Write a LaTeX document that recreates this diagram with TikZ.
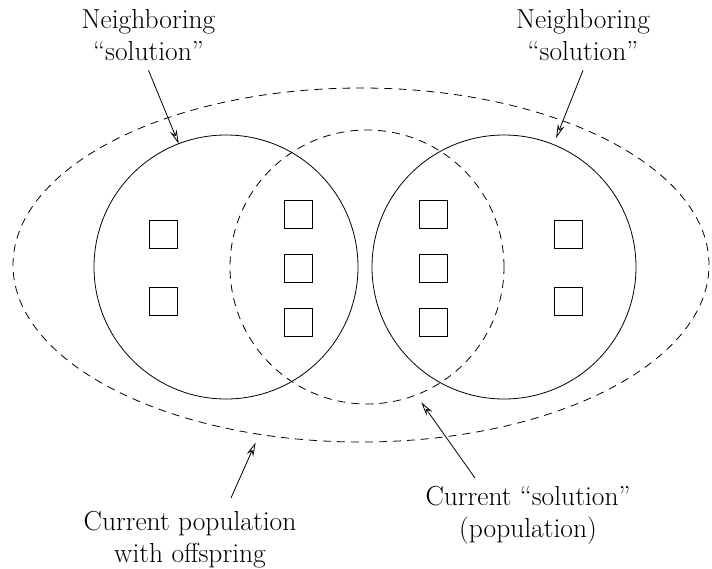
\documentclass[tikz,border=0pt]{standalone}
\usetikzlibrary{arrows.meta,shapes.geometric}
\begin{document}
\begin{tikzpicture}[x=1pt,y=1pt,
  every node/.style={inner sep=0pt,outer sep=0pt},
  lbl/.style={align=center,anchor=north,font=\fontsize{27.5}{32}\selectfont},
  solid ring/.style={circle,draw,line width=0.8pt,minimum size=264pt},
  dash ring/.style={draw,line width=0.8pt,dash pattern=on 8pt off 6pt},
  member/.style={rectangle,draw,line width=0.7pt,minimum size=28pt},
  pointer/.style={line width=0.8pt,-{Stealth[open,length=14pt,width=7pt]}}]
\useasboundingbox (0,0) rectangle (712,-568);

% population with offspring (outer dashed ellipse)
\node[dash ring,ellipse,minimum width=696pt,minimum height=354pt] (E) at (361,-265) {};
% neighbouring solutions
\node[solid ring] (L) at (226,-267) {};
\node[solid ring] (R) at (504,-267) {};
% current solution
\node[dash ring,circle,minimum size=274pt] (M) at (367,-267) {};

% individuals
\node[member] (l1) at (163,-234) {};
\node[member] (l2) at (163,-301) {};
\node[member] (m1) at (298,-214) {};
\node[member] (m2) at (298,-268) {};
\node[member] (m3) at (298,-322) {};
\node[member] (n1) at (433,-214) {};
\node[member] (n2) at (433,-268) {};
\node[member] (n3) at (433,-322) {};
\node[member] (r1) at (568,-234) {};
\node[member] (r2) at (568,-301) {};

% labels
\node[lbl] (NL) at (148.5,-9) {Neighboring\\``solution''};
\node[lbl] (NR) at (583,-9) {Neighboring\\``solution''};
\node[lbl] (PB) at (190,-511) {Current population\\with offspring};
\node[lbl] (CS) at (528,-486) {Current ``solution''\\(population)};

% pointers
\draw[pointer] ([yshift=-10pt]NL.south) -- (L.111);
\draw[pointer,shorten >=7pt] ([yshift=-10pt]NR.south) -- (R.68);
\draw[pointer,shorten >=9pt] ([shift={(41pt,13pt)}]PB.north) -- (E.239);
\draw[pointer,shorten >=9pt] ([shift={(-53pt,8pt)}]CS.north) -- (M.291);
\end{tikzpicture}
\end{document}
